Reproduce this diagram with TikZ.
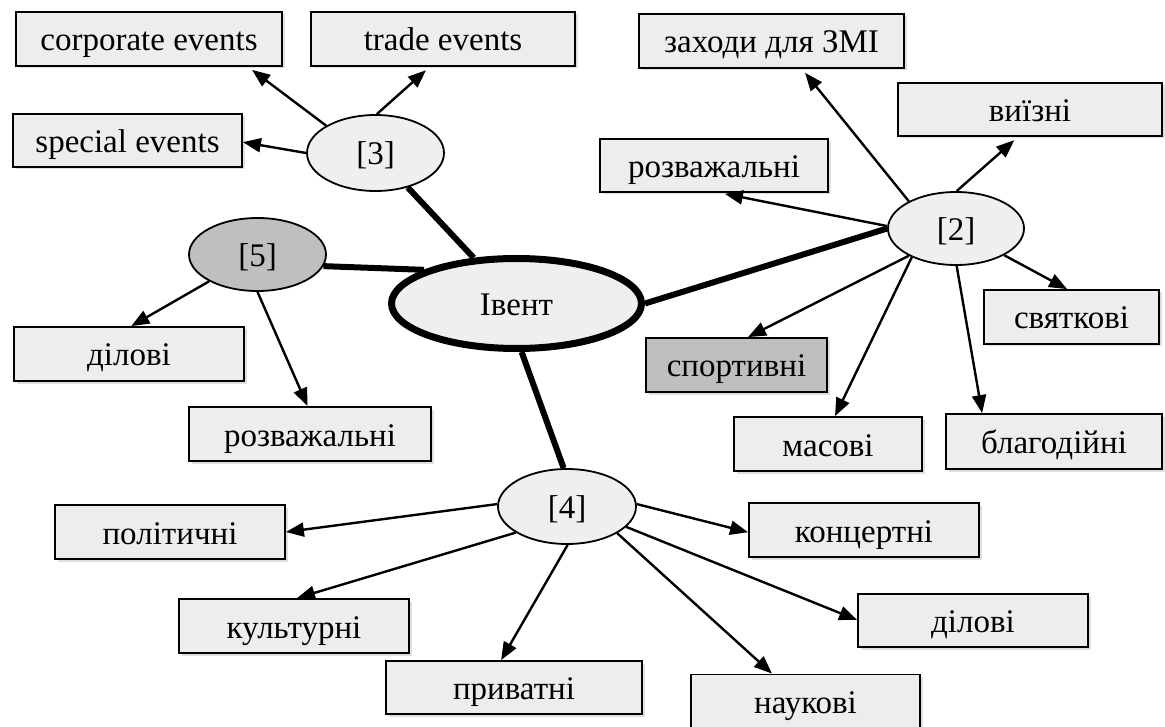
\documentclass[tikz,border=0pt]{standalone}
\usepackage{fontspec}
\setmainfont{Liberation Serif}
\usetikzlibrary{shapes.geometric,arrows.meta,calc,shadows}
\definecolor{lightfill}{HTML}{EDEDED}
\definecolor{darkfill}{HTML}{BFBFBF}
\definecolor{ellfill}{HTML}{EFEFEF}
\begin{document}
\begin{tikzpicture}[x=1pt,y=-1pt,
  font=\fontsize{33}{39}\selectfont,
  every node/.style={text height=26pt, text depth=2pt},
  ebox/.style={draw, line width=1.8pt, fill=lightfill, inner sep=0pt,
    drop shadow={shadow xshift=2.5pt,shadow yshift=-2.5pt,opacity=0.25}},
  ell/.style={ellipse, draw, line width=1.8pt, fill=ellfill, inner sep=0pt},
  arr/.style={line width=2.4pt, -{Triangle[length=18pt,width=14pt]}},
  arrup/.style={arr, shorten >=5pt},
  heavy/.style={line width=6pt}]
\useasboundingbox (0,0) rectangle (1165,727);

% boxes
\node[ebox, minimum width=266pt, minimum height=54pt] (corp) at (149,39) {corporate events};
\node[ebox, minimum width=264pt, minimum height=54pt] (trade) at (443,39) {trade events};
\node[ebox, minimum width=229pt, minimum height=53pt] (special) at (127.5,140.5) {special events};
\node[ebox, minimum width=265pt, minimum height=54pt] (zmi) at (771.5,41) {заходи для ЗМІ};
\node[ebox, minimum width=264pt, minimum height=53pt] (vyizni) at (1030,109.5) {виїзні};
\node[ebox, minimum width=228pt, minimum height=53pt] (rozv2) at (714,165.5) {розважальні};
\node[ebox, minimum width=175pt, minimum height=54pt] (svyat) at (1071.5,317) {святкові};
\node[ebox, fill=darkfill, minimum width=181pt, minimum height=54pt] (sport) at (736.5,365) {спортивні};
\node[ebox, minimum width=188pt, minimum height=54pt] (masovi) at (828,444) {масові};
\node[ebox, minimum width=216pt, minimum height=55pt] (blag) at (1054,441.5) {благодійні};
\node[ebox, minimum width=230pt, minimum height=54pt] (dilovi1) at (129,354) {ділові};
\node[ebox, minimum width=242pt, minimum height=54pt] (rozv1) at (310,434) {розважальні};
\node[ebox, minimum width=230pt, minimum height=54pt] (polit) at (170,532) {політичні};
\node[ebox, minimum width=230pt, minimum height=54pt] (kultur) at (294,626) {культурні};
\node[ebox, minimum width=256pt, minimum height=53pt] (pryvat) at (514,687.5) {приватні};
\node[ebox, minimum width=230pt, minimum height=54pt] (koncert) at (864,530) {концертні};
\node[ebox, minimum width=230pt, minimum height=53pt] (dilovi2) at (973,620.5) {ділові};
\node[ebox, minimum width=229pt, minimum height=53pt] (naukovi) at (805.5,701) {наукові};

% ellipses
\node[ell, minimum width=137pt, minimum height=76pt] (e3) at (375.5,153) {[3]};
\node[ell, fill=darkfill, minimum width=137pt, minimum height=73pt] (e5) at (257.5,254.5) {[5]};
\node[ell, line width=7pt, minimum width=250pt, minimum height=90pt] (event) at (516.5,303.5) {Івент};
\node[ell, minimum width=136pt, minimum height=73pt] (e2) at (956,228.5) {[2]};
\node[ell, minimum width=138pt, minimum height=75pt] (e4) at (567,506.5) {[4]};

% heavy links
\draw[heavy] (e3) -- (event);
\draw[heavy] (e5.350) -- (event.160);
\draw[heavy] (event.276) -- (e4.95);
\draw[heavy] (event.east) -- (e2.west);

% [3]
\draw[arrup] (e3.151) -- ($(corp.south west)!0.87!(corp.south east)$);
\draw[arrup] (e3.88) -- ($(trade.south west)!0.45!(trade.south east)$);
\draw[arr] (e3.180) -- ($(special.north east)!0.53!(special.south east)$);

% [5]
\draw[arr] (e5.209) -- ($(dilovi1.north west)!0.51!(dilovi1.north east)$);
\draw[arr] (e5.270) -- ($(rozv1.north west)!0.49!(rozv1.north east)$);

% [2]
\draw[arrup] (e2.150) -- ($(zmi.south west)!0.614!(zmi.south east)$);
\draw[arrup] (e2.89) -- ($(vyizni.south west)!0.455!(vyizni.south east)$);
\draw[arrup] (e2.178) -- ($(rozv2.south west)!0.526!(rozv2.south east)$);
\draw[arr] (e2.210) -- ($(sport.north west)!0.563!(sport.north east)$);
\draw[arr] (e2.213) -- ($(masovi.north west)!0.537!(masovi.north east)$);
\draw[arr] (e2.271) -- ($(blag.north west)!0.17!(blag.north east)$);
\draw[arr] (e2.331) -- ($(svyat.north west)!0.475!(svyat.north east)$);

% [4]
\draw[arr] (e4.178) -- (polit.east);
\draw[arr] (e4.207) -- ($(kultur.north west)!0.513!(kultur.north east)$);
\draw[arr] (e4.271) -- ($(pryvat.north west)!0.45!(pryvat.north east)$);
\draw[arr] (e4.2) -- ($(koncert.north west)!0.54!(koncert.south west)$);
\draw[arr] (e4.341) -- ($(dilovi2.north west)!0.49!(dilovi2.south west)$);
\draw[arr] (e4.332) -- ($(naukovi.north west)!0.355!(naukovi.north east)$);
\end{tikzpicture}
\end{document}
